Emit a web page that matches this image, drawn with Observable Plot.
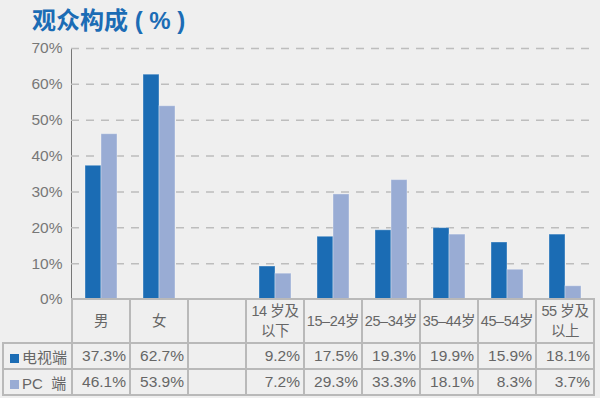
<!DOCTYPE html>
<html><head><meta charset="utf-8">
<script src="https://cdn.jsdelivr.net/npm/d3@7"></script>
<script src="https://cdn.jsdelivr.net/npm/@observablehq/plot@0.6"></script>
<style>
html,body{margin:0;padding:0;background:#efefef;width:600px;height:398px;overflow:hidden;position:relative;font-family:"Liberation Sans","Noto Sans CJK SC",sans-serif;}
#title{position:absolute;left:32px;top:1px;font-family:"Noto Sans CJK SC",sans-serif;font-weight:bold;font-size:24px;color:#1b6cb5;white-space:pre;}
#title .p{font-family:"Liberation Sans",sans-serif;font-weight:bold;}
#chart{position:absolute;left:0;top:0;}
table{position:absolute;border-collapse:collapse;table-layout:fixed;color:#666;font-size:15px;background:transparent;}
td{border:2px solid #b9b9b9;padding:0;overflow:hidden;white-space:nowrap;}
td.h{height:42px;text-align:center;white-space:pre;line-height:20px;font-family:"Liberation Sans","Noto Sans CJK SC",sans-serif;font-size:14.5px;letter-spacing:-0.4px;}
td.n{height:24px;text-align:right;padding-right:3px;font-size:15.5px;}
td.e{border:none;}
td.lg{height:24px;padding-left:6px;font-family:"Liberation Sans","Noto Sans CJK SC",sans-serif;font-size:15px;}
.sw{display:inline-block;width:9px;height:9px;margin-right:3px;vertical-align:0px;}
</style></head>
<body>
<div id="title">观众构成<span class="p"> ( % )</span></div>
<div id="chart"></div>
<script>
const categories = ["男","女"," ","14 岁及以下","15–24岁","25–34岁","35–44岁","45–54岁","55 岁及以上"];
const headerLabels = ["男","女","","14 岁及\n以下","15–24岁","25–34岁","35–44岁","45–54岁","55 岁及\n以上"];
const seriesNames = ["电视端","PC  端"];
const tvValues = [37.3, 62.7, null, 9.2, 17.5, 19.3, 19.9, 15.9, 18.1];
const pcValues = [46.1, 53.9, null, 7.2, 29.3, 33.3, 18.1, 8.3, 3.7];
const colors = ["#1b6cb4", "#99acd4"];
const yTicks = [0,10,20,30,40,50,60,70];

const tvData = categories.map((c,i)=>({c, v: tvValues[i]})).filter(d=>d.v!=null);
const pcData = categories.map((c,i)=>({c, v: pcValues[i]})).filter(d=>d.v!=null);

const chart = Plot.plot({
  width: 600, height: 312,
  marginTop: 48, marginBottom: 13, marginLeft: 71, marginRight: 5,
  style: {background: "transparent", fontSize: "15.5px", color: "#777", fontFamily: "Liberation Sans, sans-serif", overflow: "visible"},
  x: {domain: categories, padding: 0, axis: null},
  y: {domain: [0,70], ticks: yTicks, tickFormat: d => d + "%", tickSize: 0, tickPadding: 9, label: null, line: true},
  marks: [
    Plot.ruleY(yTicks.filter(t=>t>0), {stroke: "#bdbdbd", strokeWidth: 1.5, strokeDasharray: "8,7"}),
    Plot.barY(tvData, {x: "c", y: "v", fill: colors[0], insetLeft: 13, insetRight: 29, stroke: "#ffffff", strokeOpacity: 0.35, strokeWidth: 1}),
    Plot.barY(pcData, {x: "c", y: "v", fill: colors[1], insetLeft: 29, insetRight: 13, stroke: "#ffffff", strokeOpacity: 0.35, strokeWidth: 1})
  ]
});
document.getElementById("chart").appendChild(chart);
d3.select(chart).selectAll("[aria-label='y-axis'] path, [aria-label='y-axis tick'] path").attr("stroke", "#a6a6a6").attr("stroke-width", 1.5);

// table aligned to x scale
const xs = chart.scale("x");
const step = xs.step;
const x0 = xs.apply(categories[0]);
const firstW = x0 - 3;
const table = document.createElement("table");
table.style.left = "2px";
table.style.top = "298px";
const cg = document.createElement("colgroup");
[firstW, ...categories.map(()=>step)].forEach(w=>{const col=document.createElement("col");col.style.width=w+"px";cg.appendChild(col);});
table.appendChild(cg);
let tr = document.createElement("tr");
let td = document.createElement("td"); td.className="e"; tr.appendChild(td);
headerLabels.forEach(h=>{const c=document.createElement("td");c.className="h";c.textContent=h;tr.appendChild(c);});
table.appendChild(tr);
[tvValues, pcValues].forEach((vals, si)=>{
  const r = document.createElement("tr");
  const lg = document.createElement("td"); lg.className="lg";
  const sw = document.createElement("span"); sw.className="sw"; sw.style.background=colors[si];
  lg.appendChild(sw); lg.appendChild(document.createTextNode(seriesNames[si]));
  lg.style.whiteSpace = "pre";
  r.appendChild(lg);
  vals.forEach(v=>{const c=document.createElement("td");c.className="n";c.textContent=v==null?"":v.toFixed(1)+"%";r.appendChild(c);});
  table.appendChild(r);
});
document.body.appendChild(table);
</script>
</body></html>
